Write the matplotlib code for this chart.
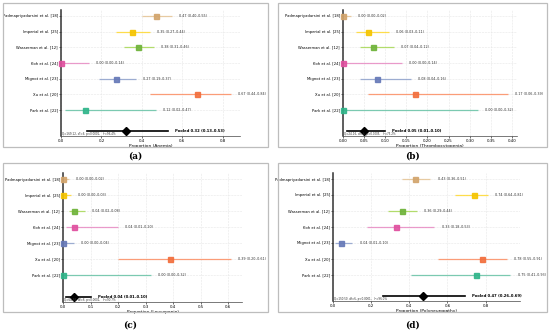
import matplotlib
matplotlib.use("Agg")
import matplotlib.pyplot as plt
from matplotlib.patches import Rectangle

studies = ["Padmapriyadarsini et al. [18]", "Imperial et al. [25]", "Wasserman et al. [12]",
           "Koh et al. [24]", "Mignot et al. [23]", "Xu et al. [20]", "Park et al. [22]"]
colors = ["#e5c494", "#ffd92f", "#a6d854", "#e78ac3", "#8da0cb", "#fc8d62", "#66c2a5"]
marker_colors = ["#d2a46c", "#f5c400", "#6fb33a", "#e0509f", "#6679b8", "#f26e3c", "#2fb58a"]

anemia_est = [0.47, 0.35, 0.38, 0.00, 0.27, 0.67, 0.12]
anemia_lo = [0.40, 0.27, 0.31, 0.00, 0.19, 0.44, 0.02]
anemia_hi = [0.55, 0.44, 0.46, 0.14, 0.37, 0.84, 0.47]
anemia_pooled = [0.32, 0.13, 0.53]
anemia_het = "Q=169.12, df=6, p<0.0001,   I²=96.4%"

thrombo_est = [0.00, 0.06, 0.07, 0.00, 0.08, 0.17, 0.00]
thrombo_lo = [0.00, 0.03, 0.04, 0.00, 0.04, 0.06, 0.00]
thrombo_hi = [0.02, 0.11, 0.12, 0.14, 0.16, 0.39, 0.32]
thrombo_pooled = [0.05, 0.01, 0.10]
thrombo_het = "Q=24.16, df=6, p=0.0005,   I²=75.2%"

leuco_est = [0.00, 0.00, 0.04, 0.04, 0.00, 0.39, 0.00]
leuco_lo = [0.00, 0.00, 0.02, 0.01, 0.00, 0.20, 0.00]
leuco_hi = [0.02, 0.03, 0.08, 0.20, 0.04, 0.61, 0.32]
leuco_pooled = [0.04, 0.01, 0.10]
leuco_het = "Q=64.58, df=6, p<0.0001,   I²=90.7%"

poly_est = [0.43, 0.74, 0.36, 0.33, 0.04, 0.78, 0.75]
poly_lo = [0.36, 0.64, 0.29, 0.18, 0.01, 0.55, 0.41]
poly_hi = [0.51, 0.81, 0.44, 0.53, 0.10, 0.91, 0.93]
poly_pooled = [0.47, 0.26, 0.69]
poly_het = "Q=150.50, df=6, p<0.0001,   I²=96.0%"

W, H = 550, 331
fig = plt.figure(figsize=(5.5, 3.31), dpi=100)
fig.patch.set_facecolor("white")

def rect(L, R, T, B):
    return [L / W, (H - B) / H, (R - L) / W, (B - T) / H]

panels = [
    dict(box=(3, 268, 3, 147), ax=(61, 240, 10, 136), xmax=0.885, ticks=[0.0, 0.2, 0.4, 0.6, 0.8],
         fmt="{:.1f}", est=anemia_est, lo=anemia_lo, hi=anemia_hi, pooled=anemia_pooled,
         het=anemia_het, xlabel="Proportion (Anemia)", cap="(a)", capxy=(135, 156)),
    dict(box=(278, 547, 3, 147), ax=(343, 517, 10, 136), xmax=0.412,
         ticks=[0.0, 0.05, 0.10, 0.15, 0.20, 0.25, 0.30, 0.35, 0.40],
         fmt="{:.2f}", est=thrombo_est, lo=thrombo_lo, hi=thrombo_hi, pooled=thrombo_pooled,
         het=thrombo_het, xlabel="Proportion (Thrombocytopenia)", cap="(b)", capxy=(412, 156)),
    dict(box=(3, 268, 163, 312), ax=(63, 242, 173, 302), xmax=0.65,
         ticks=[0.0, 0.1, 0.2, 0.3, 0.4, 0.5, 0.6],
         fmt="{:.1f}", est=leuco_est, lo=leuco_lo, hi=leuco_hi, pooled=leuco_pooled,
         het=leuco_het, xlabel="Proportion (Leucopenia)", cap="(c)", capxy=(130, 325)),
    dict(box=(278, 547, 163, 312), ax=(333, 520, 173, 301), xmax=0.98,
         ticks=[0.0, 0.2, 0.4, 0.6, 0.8],
         fmt="{:.1f}", est=poly_est, lo=poly_lo, hi=poly_hi, pooled=poly_pooled,
         het=poly_het, xlabel="Proportion (Polyneuropathy)", cap="(d)", capxy=(413, 325)),
]

ypos = [7, 6, 5, 4, 3, 2, 1]
ypool = -0.34

for p in panels:
    L, R, T, B = p["box"]
    fig.patches.append(Rectangle((L / W, (H - B) / H), (R - L) / W, (B - T) / H,
                                 transform=fig.transFigure, fill=False,
                                 edgecolor="#bdbdbd", linewidth=0.9))
    ax = fig.add_axes(rect(*p["ax"]))
    xmax = p["xmax"]
    off = 0.04 * xmax
    for i in range(len(studies)):
        ax.plot([p["lo"][i], p["hi"][i]], [ypos[i], ypos[i]], color=colors[i],
                lw=0.9, alpha=0.85, zorder=2, solid_capstyle="butt")
        ax.plot(p["est"][i], ypos[i], marker="s", ms=3.6, color=marker_colors[i],
                mec=marker_colors[i], alpha=0.9, zorder=3, clip_on=False)
        ax.text(p["hi"][i] + off, ypos[i],
                "{:.2f} ({:.2f}–{:.2f})".format(p["est"][i], p["lo"][i], p["hi"][i]),
                fontsize=2.4, va="center", ha="left", color="#333333")
    pe, pl, ph = p["pooled"]
    ax.plot([pl, ph], [ypool, ypool], color="black", lw=1.2, zorder=2)
    ax.plot(pe, ypool, marker="D", ms=4.2, color="black", zorder=3)
    ax.text(ph + off, ypool, "Pooled {:.2f} ({:.2f}–{:.2f})".format(pe, pl, ph),
            fontsize=2.7, fontweight="bold", va="center", ha="left")
    ax.text(0.005, 0.0, p["het"], transform=ax.transAxes, fontsize=2.0,
            va="bottom", ha="left", color="#333333")
    ax.set_xlim(0, xmax)
    ax.set_ylim(-0.66, 7.38)
    ax.set_yticks(ypos)
    ax.set_yticklabels(studies, fontsize=2.7)
    ax.set_xticks(p["ticks"])
    ax.set_xticklabels([p["fmt"].format(t) for t in p["ticks"]], fontsize=2.9)
    ax.tick_params(axis="both", length=1.2, width=0.4, pad=1)
    ax.set_xlabel(p["xlabel"], fontsize=3.2, labelpad=1)
    ax.grid(True, color="#e6e6e6", lw=0.4, ls="--")
    ax.set_axisbelow(True)
    for s in ["top", "right"]:
        ax.spines[s].set_visible(False)
    ax.spines["left"].set_linewidth(1.1)
    ax.spines["left"].set_color("#333333")
    ax.spines["bottom"].set_linewidth(0.5)
    ax.spines["bottom"].set_color("#444444")
    cx, cy = p["capxy"]
    fig.text(cx / W, (H - cy) / H, p["cap"], fontsize=6.5, family="DejaVu Serif",
             fontweight="bold", ha="center", va="center")

fig.savefig("out.png", dpi=100, facecolor="white")
